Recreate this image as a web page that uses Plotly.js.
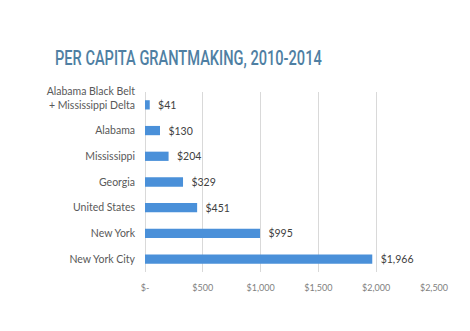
<!DOCTYPE html>
<html><head><meta charset="utf-8">
<script src="https://cdn.plot.ly/plotly-3.0.1.min.js"></script>
<style>html,body{margin:0;padding:0;background:#fff}#chart{width:470px;height:331px}</style>
</head><body><div id="chart"></div>
<script>
var categories = ["Alabama Black Belt<br>+ Mississippi Delta", "Alabama", "Mississippi", "Georgia", "United States", "New York", "New York City"];
var values = [41, 130, 204, 329, 451, 995, 1966];
var tickValues = [0, 500, 1000, 1500, 2000, 2500];
var tickLabels = ["$-", "$500", "$1,000", "$1,500", "$2,000", "$2,500"];

// display text: two-line label sits with its second line beside the bar
var categoryText = categories.map(function(c){ return c.indexOf('<br>') >= 0 ? c + '<br>\u00a0' : c; });

var trace = {
  type: 'bar', orientation: 'h',
  x: values, y: categories,
  marker: {color: '#4A90D9'},
  texttemplate: '\u00a0\u00a0$%{x:,}',
  textposition: 'outside',
  constraintext: 'none',
  textfont: {family: 'Lato, sans-serif', size: 10.5, color: '#404040'},
  cliponaxis: false,
  hoverinfo: 'none'
};
var layout = {
  width: 470, height: 331,
  margin: {l: 145, r: 36, t: 92, b: 59},
  paper_bgcolor: '#fff', plot_bgcolor: '#fff',
  showlegend: false,
  bargap: 0.64,
  title: {text: 'PER CAPITA GRANTMAKING, 2010-2014', x: 55/470, xanchor: 'left', y: 1 - 58/331, yanchor: 'middle',
    font: {family: 'Roboto, sans-serif', size: 21, color: '#4F7FA3', weight: 500}},
  xaxis: {range: [0, 2500], tickvals: tickValues, ticktext: tickLabels, showgrid: true, gridcolor: '#D9D9D9', gridwidth: 1,
    zeroline: true, zerolinecolor: '#D9D9D9', showline: false, ticks: '', ticklabelstandoff: 9,
    tickfont: {family: 'Lato, sans-serif', size: 9, color: '#7F7F7F'}, fixedrange: true},
  yaxis: {autorange: 'reversed', showgrid: false, zeroline: false, showline: false, ticks: '', ticklabelstandoff: 9,
    tickmode: 'array', tickvals: categories, ticktext: categoryText,
    tickfont: {family: 'Lato, sans-serif', size: 10.5, color: '#595959'}, fixedrange: true}
};
Plotly.newPlot('chart', [trace], layout, {displayModeBar: false, staticPlot: true}).then(function(gd){
  // condense the title horizontally to mimic the narrow typeface
  var t = gd.querySelector('.gtitle');
  if (t) {
    var bb = t.getBBox();
    var s = 267 / bb.width;
    t.setAttribute('transform', 'translate(' + (bb.x * (1 - s)) + ',0) scale(' + s + ',1)');
  }
});
</script></body></html>
